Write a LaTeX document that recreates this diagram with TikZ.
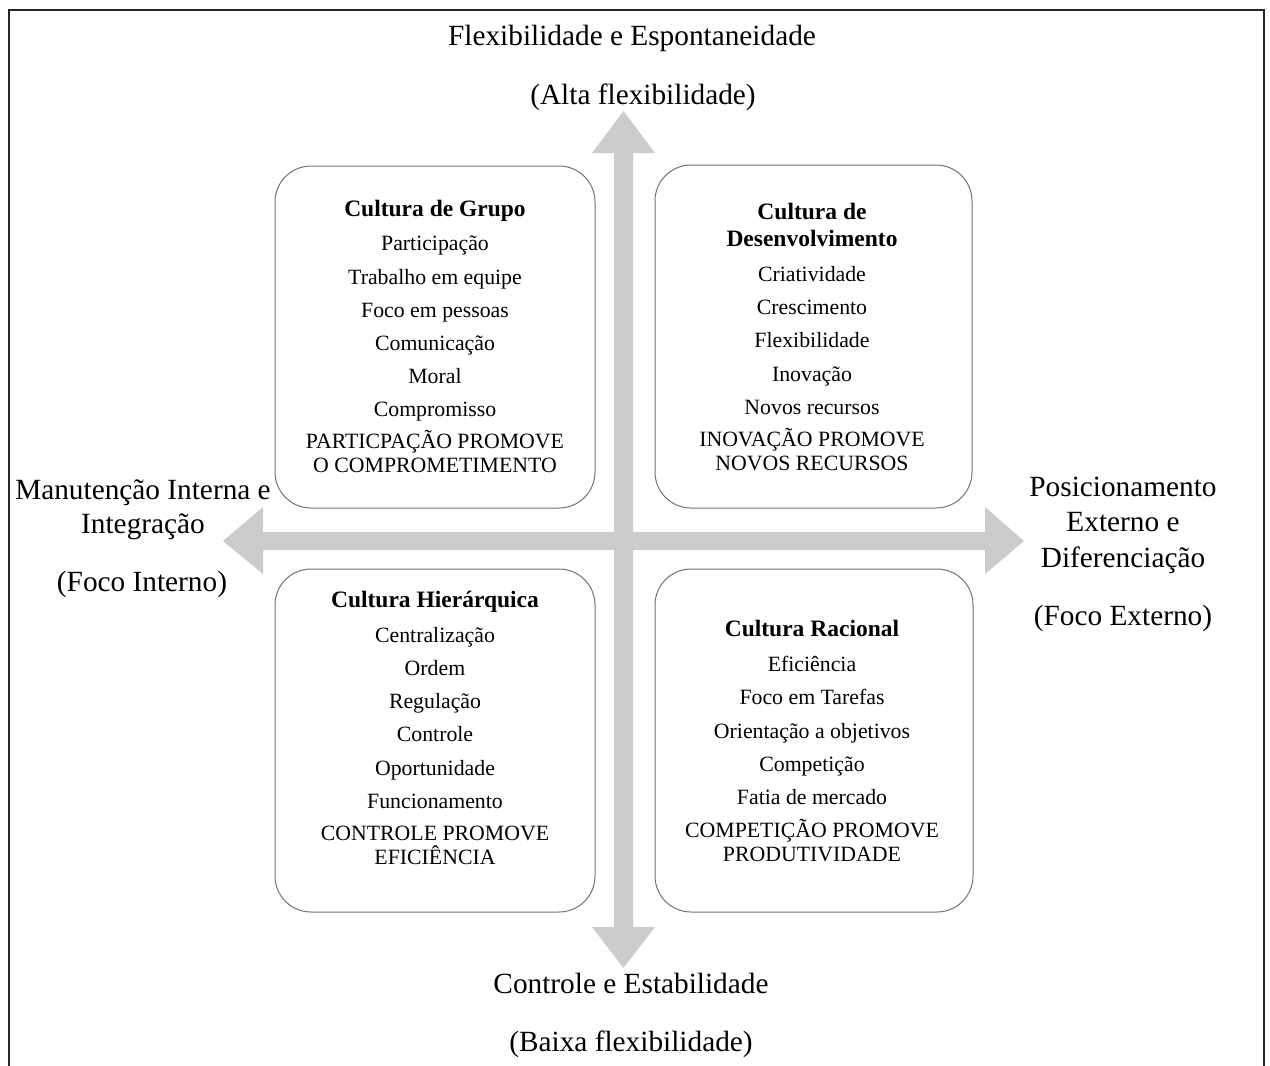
\documentclass[tikz,border=0pt]{standalone}
\usepackage{fontspec}
\setmainfont{Liberation Serif}
\begin{document}
\begin{tikzpicture}[x=1pt,y=-1pt,
  axisarrow/.style={fill=black!20, draw=none},
  quadbox/.style={draw=black!55, line width=1pt, fill=white, rounded corners=36pt},
  linetext/.style={inner sep=0pt, anchor=center, text height=1.38em, text depth=0pt},
  boxtitle/.style={linetext, font=\fontsize{23.5}{26}\selectfont\bfseries},
  boxitem/.style={linetext, font=\fontsize{21.8}{24}\selectfont},
  axislabel/.style={linetext, text height=1.6em, font=\fontsize{29.3}{34}\selectfont}]
\useasboundingbox (0,0) rectangle (1270,1066);

% outer frame, open at the bottom
\draw[line width=2.5pt, black!85] (9,1070) -- (9,10) -- (1264,10) -- (1264,1070);

% axis arrows
\coordinate (c) at (623.5,541);
\fill[axisarrow] (614,153) -- (592,153) -- (623.5,111) -- (655,153) -- (633,153)
  -- (633,927) -- (655,927) -- (623.5,968) -- (592,927) -- (614,927) -- cycle;
\fill[axisarrow] (263,532) -- (263,507) -- (223,541) -- (263,574) -- (263,550)
  -- (985,550) -- (985,574) -- (1024,541) -- (985,507) -- (985,532) -- cycle;

% quadrant boxes
\draw[quadbox] (275,166) rectangle (595,508);
\draw[quadbox] (655,165) rectangle (972,508);
\draw[quadbox] (275,569) rectangle (595,912);
\draw[quadbox] (655,569) rectangle (973,912);

% group culture
\node[boxtitle] (g0) at (435,210) {Cultura de Grupo};
\foreach \t/\y [count=\i] in {Participação/244, Trabalho em equipe/278, Foco em pessoas/311,
   Comunicação/344, Moral/377, Compromisso/410, PARTICPAÇÃO PROMOVE/442, O COMPROMETIMENTO/466}
  \node[boxitem] (g\i) at (435,\y) {\t};

% development culture
\node[boxtitle] (d0) at (812,213) {Cultura de};
\node[boxtitle] (d00) at (812,240) {Desenvolvimento};
\foreach \t/\y [count=\i] in {Criatividade/275, Crescimento/308, Flexibilidade/341,
   Inovação/375, Novos recursos/408, INOVAÇÃO PROMOVE/440, NOVOS RECURSOS/464}
  \node[boxitem] (d\i) at (812,\y) {\t};

% hierarchical culture
\node[boxtitle] (h0) at (435,601) {Cultura Hierárquica};
\foreach \t/\y [count=\i] in {Centralização/636, Ordem/669, Regulação/702, Controle/735,
   Oportunidade/769, Funcionamento/802, CONTROLE PROMOVE/834, EFICIÊNCIA/858}
  \node[boxitem] (h\i) at (435,\y) {\t};

% rational culture
\node[boxtitle] (r0) at (812,630) {Cultura Racional};
\foreach \t/\y [count=\i] in {Eficiência/665, Foco em Tarefas/698, Orientação a objetivos/732,
   Competição/765, Fatia de mercado/798, COMPETIÇÃO PROMOVE/831, PRODUTIVIDADE/855}
  \node[boxitem] (r\i) at (812,\y) {\t};

% axis labels
\node[axislabel] (top1) at (632,37) {Flexibilidade e Espontaneidade};
\node[axislabel] (top2) at (643,96) {(Alta flexibilidade)};
\node[axislabel] (bot1) at (631,985) {Controle e Estabilidade};
\node[axislabel] (bot2) at (631,1043) {(Baixa flexibilidade)};
\node[axislabel] (lft1) at (143,491) {Manutenção Interna e};
\node[axislabel] (lft2) at (143,525) {Integração};
\node[axislabel] (lft3) at (142,583) {(Foco Interno)};
\node[axislabel] (rgt1) at (1123,488) {Posicionamento};
\node[axislabel] (rgt2) at (1123,523) {Externo e};
\node[axislabel] (rgt3) at (1123,559) {Diferenciação};
\node[axislabel] (rgt4) at (1123,617) {(Foco Externo)};
\end{tikzpicture}
\end{document}
